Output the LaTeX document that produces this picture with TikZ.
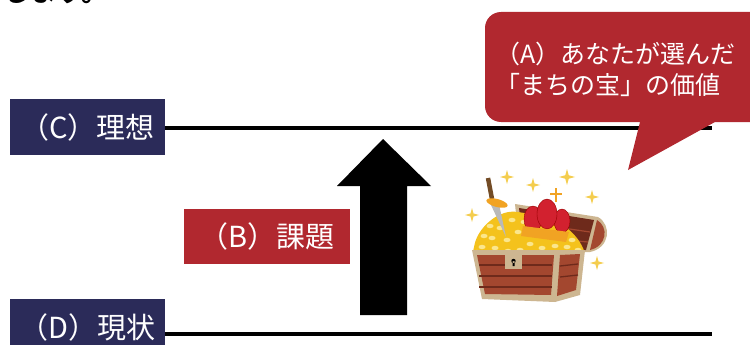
\documentclass[tikz,border=0pt]{standalone}
\usepackage{fontspec}
\setmainfont{Noto Sans CJK JP}
\definecolor{labelnavy}{HTML}{2B2B59}
\definecolor{labelred}{HTML}{B1282F}
\definecolor{chestbrown}{HTML}{A3472F}
\definecolor{chestdark}{HTML}{6E2A1B}
\definecolor{chestrim}{HTML}{CDB691}
\definecolor{coingold}{HTML}{F4C21C}
\definecolor{coinlight}{HTML}{FBE68C}
\definecolor{crownred}{HTML}{D2212F}
\definecolor{crownband}{HTML}{F1A323}
\definecolor{sparkyellow}{HTML}{F4CD4E}
\newcommand{\LevelFont}{\fontsize{29}{30}\selectfont}

\tikzset{
  levelbox/.style={fill=labelnavy, text=white, minimum width=155pt, minimum height=56pt,
    inner sep=0pt, font=\LevelFont, anchor=north west},
  issuebox/.style={fill=labelred, text=white, minimum width=166pt, minimum height=55pt,
    inner sep=0pt, font=\LevelFont, anchor=north west},
  levelline/.style={line width=3.5pt},
}

\begin{document}
\begin{tikzpicture}[x=1pt,y=-1pt]
                \useasboundingbox (0,0) rectangle (750,345);
                \clip (0,0) rectangle (750,345);
                \node[anchor=base west, font=\fontsize{27}{28}\selectfont\bfseries, inner sep=0pt] (lead) at (3,1.5) {します。};

                \node[levelbox] (ideal) at (10,99) {（C）理想};
                \node[levelbox] (now) at (10,299) {（D）現状};
                \coordinate (idealend) at (712,128);
                \coordinate (nowend) at (712,334);
                \draw[levelline] (ideal.east |- idealend) -- (idealend);
                \draw[levelline] (now.east |- nowend) -- (nowend);

                \node[issuebox] (issue) at (184,209) {（B）課題};
                \fill (360,315) -- (360,186) -- (337,186) -- (383,139) -- (431,186) -- (407,186) -- (407,315) -- cycle;

                \fill[labelred] (640,122) [rounded corners=16pt] -- (485,122) -- (485,12) -- (775,12) -- (775,122) [sharp corners] -- (715,122) -- (628,170) -- cycle;
                \node[anchor=base west, text=white, align=left, inner sep=0pt,
                      font=\fontsize{25}{32}\selectfont] (worth) at (495,95) {（A）あなたが選んだ\\「まちの宝」の価値};

                \fill[chestrim] (515,204) -- (598,217) .. controls (612,225) and (610,248) .. (590,252) -- (520,252) -- cycle;
                \fill[chestdark] (519,208) -- (594,220) -- (586,250) -- (524,250) -- cycle;
                \fill[chestbrown] (597,220) .. controls (609,227) and (607,246) .. (590,250) -- cycle;
                \draw[chestbrown, line width=1.2pt] (522,222) -- (590,232) (524,236) -- (588,242);

                \draw[line width=4.5pt, color=brown!60!black] (488,178) -- (492,199);
                \fill[rounded corners=6pt, coingold] (472,256) -- (476,238) -- (484,226) -- (496,216) -- (510,211) -- (525,213) -- (545,217) -- (562,224) -- (574,234) -- (582,245) -- (586,256) -- cycle;
                \foreach \x/\y in {482/247,492/238,500/228,512/220,524/222,484/236,495/248,507/240,518/232,530/244,542/248,555/246,567/247,578/250,572/240,520/250,508/251,477/252,490/226}
                  \fill[coinlight] (\x,\y) ellipse (3.5 and 2.2);
                \fill[gray!55] (491,205) -- (499,204) -- (506,237) -- cycle;
                \fill[crownband, rotate around={-15:(497,203)}] (497,203) ellipse (11 and 4);

                \draw[crownband, line width=2.5pt] (556,188) -- (556,202) (550,194) -- (562,194);
                \fill[crownred, draw=red!60!black] (533,219) ellipse (9 and 13);
                \fill[crownred, draw=red!60!black] (562,221) ellipse (8 and 12);
                \fill[crownred, draw=red!60!black] (547,214) ellipse (10 and 15);
                \fill[crownband] (523,226) -- (569,232) -- (566,242) -- (521,236) -- cycle;

                \fill[chestrim] (472,250) -- (585,250) -- (580,295) -- (555,302) -- (482,299) -- cycle;
                \fill[chestbrown] (477,255) -- (554,255) -- (551,295) -- (485,294) -- cycle;
                \fill[chestbrown] (560,255) -- (580,254) -- (576,290) -- (557,296) -- cycle;
                \foreach \y in {265,276,287}
                  \draw[chestdark, line width=1.3pt] (479,\y) -- (552,\y);
                \foreach \y in {266,277}
                  \draw[chestdark, line width=1.3pt] (560,\y) -- (578,\y-2);
                \fill[chestrim] (505,252) rectangle (522,269);
                \fill (513.5,261) circle (2.2) (512.5,261) rectangle (514.5,266);

                \foreach \x/\y/\s in {507/177/7,533/185/7,567/177/8,592/197/7,472/215/7,597/263/7}
                  \fill[sparkyellow, shift={(\x,\y)}] (0,-\s) -- (0.22*\s,-0.22*\s) -- (\s,0) -- (0.22*\s,0.22*\s) -- (0,\s) -- (-0.22*\s,0.22*\s) -- (-\s,0) -- (-0.22*\s,-0.22*\s) -- cycle;
        \end{tikzpicture}
\end{document}
